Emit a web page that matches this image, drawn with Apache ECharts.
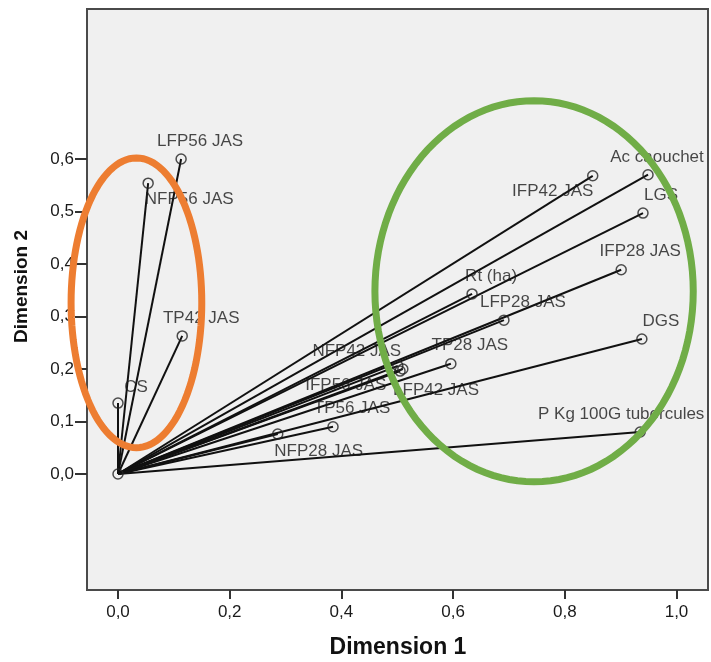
<!DOCTYPE html>
<html>
<head>
<meta charset="utf-8">
<script src="https://cdn.jsdelivr.net/npm/echarts@6/dist/echarts.min.js"></script>
<style>
html,body{margin:0;padding:0;background:#fff;}
#c{width:711px;height:662px;}
</style>
</head>
<body>
<div id="c"></div>
<script>
// ---- data ----
const names = ['LFP56 JAS','NFP56 JAS','TP42 JAS','CS','Ac caouchet','IFP42 JAS','LGS','IFP28 JAS','Rt (ha)','LFP28 JAS','DGS','TP28 JAS','NFP42 JAS','IFP56 JAS','LFP42 JAS','TP56 JAS','NFP28 JAS','P Kg 100G tubercules',''];
const dim1  = [0.113,0.054,0.115,0.000,0.949,0.850,0.940,0.901,0.634,0.691,0.938,0.596,0.501,0.510,0.505,0.385,0.286,0.935,0.000];
const dim2  = [0.600,0.554,0.263,0.135,0.570,0.568,0.497,0.389,0.343,0.293,0.257,0.210,0.206,0.200,0.196,0.090,0.076,0.080,0.000];
const xTicks = [0,0.2,0.4,0.6,0.8,1.0];
const yTicks = [0,0.1,0.2,0.3,0.4,0.5,0.6];
// annotation ellipses [cx, cy, rx, ry] in data units
const orangeEllipse = [0.033,0.326,0.117,0.276];
const greenEllipse  = [0.745,0.348,0.285,0.363];

// ---- label placement (styles) ----
const labelOffsets = {
  'NFP56 JAS':[41,16], 'IFP42 JAS':[-40,16], 'CS':[18,-16], 'Ac caouchet':[9,-17],
  'NFP42 JAS':[-41,-15], 'IFP56 JAS':[-57,16], 'LFP42 JAS':[36,19], 'NFP28 JAS':[41,17],
  'P Kg 100G tubercules':[-19,-18], 'LGS':[18,-18]
};
const defaultOffset = [19,-18];

const fmt = v => v.toFixed(1).replace('.', ',');
const font = "'Liberation Sans', Arial, sans-serif";

const pts = names.map((n,i) => ({
  value:[dim1[i],dim2[i]],
  name:n,
  label:{offset: labelOffsets[n] || defaultOffset}
}));
const segs = names.map((n,i) => ({coords:[[0,0],[dim1[i],dim2[i]]]}));

function ellipseSeries(e, color){
  return {
    type:'custom', clip:false, silent:true, z:10,
    data:[e],
    renderItem:function(params, api){
      const cx=api.value(0), cy=api.value(1), rx=api.value(2), ry=api.value(3);
      const p=[];
      for(let k=0;k<120;k++){
        const t=k/120*Math.PI*2;
        p.push(api.coord([cx+rx*Math.cos(t), cy+ry*Math.sin(t)]));
      }
      return {type:'polygon', shape:{points:p}, style:{fill:'none', stroke:color, lineWidth:7}};
    }
  };
}

const chart = echarts.init(document.getElementById('c'), null, {renderer:'canvas'});
chart.setOption({
  animation:false,
  backgroundColor:'#ffffff',
  grid:{left:87, right:3, top:9, bottom:72, show:true, backgroundColor:'#f0f0f0', borderColor:'#4a4a4a', borderWidth:2, containLabel:false},
  xAxis:{
    type:'value', min:-0.0555, max:1.0564, position:'bottom',
    splitLine:{show:false},
    axisLine:{show:false, onZero:false},
    axisTick:{show:true, length:9, lineStyle:{color:'#333', width:2}, customValues:xTicks},
    axisLabel:{customValues:xTicks, formatter:fmt, margin:14, fontSize:17, color:'#1a1a1a', fontFamily:font}
  },
  yAxis:{
    type:'value', min:-0.221, max:0.8857, position:'left',
    splitLine:{show:false},
    axisLine:{show:false, onZero:false},
    axisTick:{show:true, length:12, lineStyle:{color:'#333', width:2}, customValues:yTicks},
    axisLabel:{customValues:yTicks, formatter:fmt, margin:13, fontSize:17, color:'#1a1a1a', fontFamily:font}
  },
  graphic:[
    {type:'text', x:398, y:636, style:{text:'Dimension 1', font:"bold 23px "+font, fill:'#111', textAlign:'center', textVerticalAlign:'top'}},
    {type:'text', rotation:Math.PI/2, x:12, y:343, style:{text:'Dimension 2', font:"bold 19px "+font, fill:'#111', textAlign:'left', textVerticalAlign:'top'}}
  ],
  series:[
    {type:'lines', coordinateSystem:'cartesian2d', polyline:false, z:2, silent:true,
     lineStyle:{color:'#111', width:2, opacity:1}, data:segs},
    {type:'scatter', z:3, symbol:'circle', symbolSize:10,
     itemStyle:{color:'rgba(0,0,0,0)', borderColor:'#222', borderWidth:1.5},
     label:{show:true, position:'inside', formatter:p=>p.name, fontSize:17, color:'#1a1a1a', fontFamily:font},
     data:pts},
    ellipseSeries(orangeEllipse,'#ED7D31'),
    ellipseSeries(greenEllipse,'#70AD47')
  ]
});
</script>
</body>
</html>
